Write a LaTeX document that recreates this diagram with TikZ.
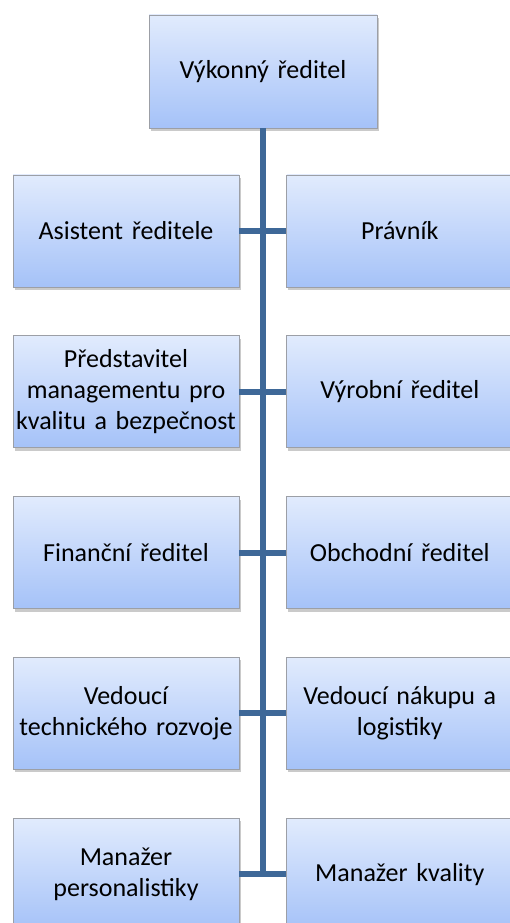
\documentclass[tikz,border=0pt]{standalone}
\usepackage{fontspec}
\setmainfont{Carlito}
\usepackage{xcolor}
\usepackage{tikz}
\usetikzlibrary{positioning, calc, shadows}
\definecolor{boxtop}{HTML}{E1EBFD}
\definecolor{boxbottom}{HTML}{A5C2F8}
\definecolor{boxline}{HTML}{9C9FA6}
\definecolor{trunk}{HTML}{3E6898}

\begin{document}
\begin{tikzpicture}[
  x=1pt, y=1pt,
  node distance=48pt and 47pt,
  unit/.style={draw=boxline, line width=0.8pt, top color=boxtop, bottom color=boxbottom,
               minimum width=226pt, minimum height=112pt, inner sep=2pt,
               text width=222pt, align=center, text=black,
               font=\fontsize{26}{31}\selectfont,
               drop shadow={shadow xshift=1.5pt, shadow yshift=-3pt, opacity=0.35, fill=black!60}},
  link/.style={trunk, line width=6pt}
]
  \clip (0,0) rectangle (510,923);

  \node[unit, minimum width=228pt, minimum height=113pt] (ceo) at (263,851.5) {Výkonný ředitel};

  \node[unit] (l1) at (126,692) {Asistent ředitele};
  \node[unit, right=of l1] (r1) {Právník};
  \node[unit, below=of l1] (l2) {Představitel\\managementu pro\\kvalitu a bezpečnost};
  \node[unit, right=of l2] (r2) {Výrobní ředitel};
  \node[unit, below=of l2] (l3) {Finanční ředitel};
  \node[unit, right=of l3] (r3) {Obchodní ředitel};
  \node[unit, below=of l3] (l4) {Vedoucí\\technického rozvoje};
  \node[unit, right=of l4] (r4) {Vedoucí nákupu a\\logistiky};
  \node[unit, below=of l4] (l5) {Manažer\\personalistiky};
  \node[unit, right=of l5] (r5) {Manažer kvality};

  \coordinate (join) at ($(l5.east)!0.5!(r5.west)$);
  \draw[link] (ceo.south) -- (ceo.south |- join);
  \foreach \i in {1,...,5}
    \draw[link] (l\i.east) -- (r\i.west);
\end{tikzpicture}
\end{document}
